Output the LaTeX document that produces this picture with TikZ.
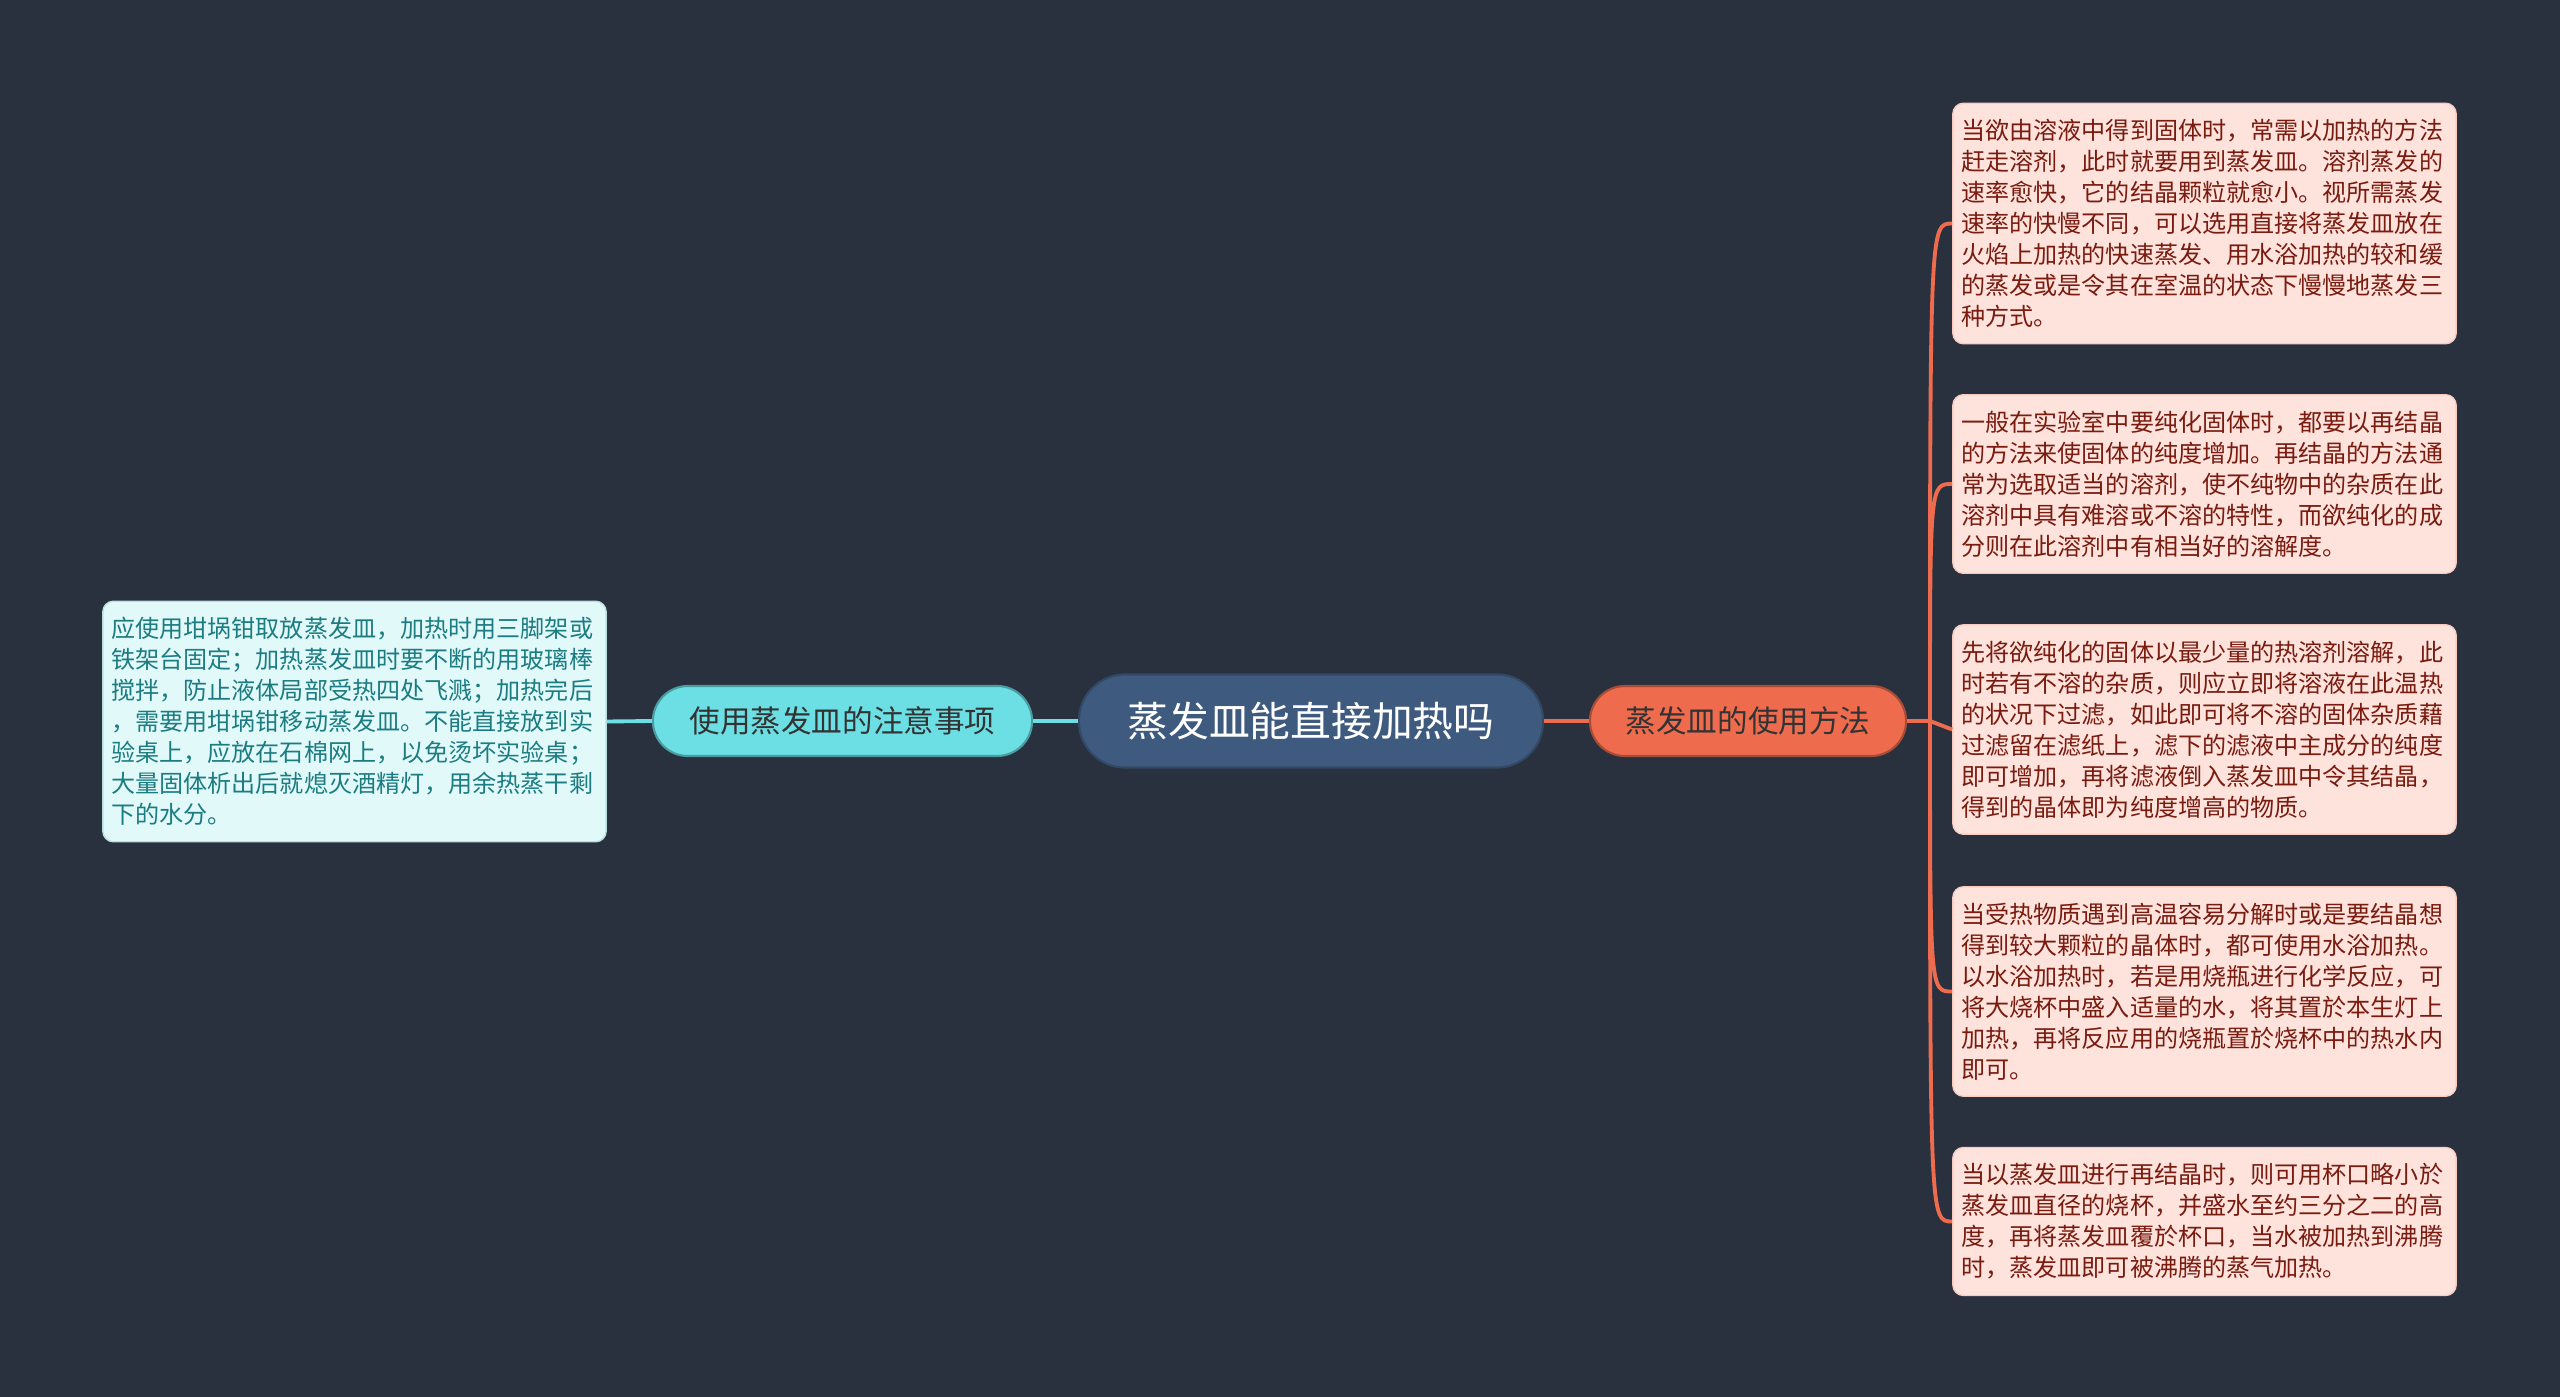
\documentclass[tikz,border=0pt]{standalone}
\usepackage{fontspec}
\newfontfamily\cjkfont{Noto Sans CJK SC}
\usetikzlibrary{positioning}
\definecolor{bgdark}{HTML}{29313F}
\definecolor{rootblue}{HTML}{3E5A7E}
\definecolor{cyanbr}{HTML}{6BDFE4}
\definecolor{cyanleaf}{HTML}{E1F9F9}
\definecolor{cyantext}{HTML}{1B7C82}
\definecolor{orangebr}{HTML}{EE6C4D}
\definecolor{pinkleaf}{HTML}{FDE3DC}
\definecolor{pinktext}{HTML}{7A1B10}

\begin{document}
\begin{tikzpicture}[
  x=0.01cm, y=-0.01cm,
  % Node styles
  rootbox/.style={rectangle, rounded corners=0.46cm, fill=rootblue, draw=rootblue!80!black,
    minimum width=4.64cm, minimum height=0.93cm, text=white, line width=0.6pt,
    font=\cjkfont\fontsize{11.6}{14}\selectfont},
  lbrbox/.style={rectangle, rounded corners=0.35cm, fill=cyanbr, draw=cyanbr!70!black,
    minimum width=3.79cm, minimum height=0.70cm, text=black!80, line width=0.6pt,
    font=\cjkfont\fontsize{8.7}{11}\selectfont},
  rbrbox/.style={rectangle, rounded corners=0.35cm, fill=orangebr, draw=orangebr!70!black,
    minimum width=3.16cm, minimum height=0.70cm, text=black!80, line width=0.6pt,
    font=\cjkfont\fontsize{8.7}{11}\selectfont},
  lleafbox/.style={rectangle, rounded corners=3pt, fill=cyanleaf, draw=cyanleaf!80!cyantext,
    text width=4.86cm, inner xsep=0.085cm, inner ysep=0.16cm, align=left, text=cyantext,
    line width=0.4pt, font=\cjkfont\fontsize{6.85}{8.82}\selectfont},
  rleafbox/.style={rectangle, rounded corners=3pt, fill=pinkleaf, draw=pinkleaf!80!orangebr,
    text width=4.86cm, inner xsep=0.085cm, inner ysep=0.16cm, align=left, text=pinktext,
    line width=0.4pt, font=\cjkfont\fontsize{6.85}{8.82}\selectfont},
  llink/.style={draw=cyanbr, line width=1.1pt},
  rlink/.style={draw=orangebr, line width=1.1pt},
]

% === Background ===
\fill[bgdark] (0,0) rectangle (2560,1397);
\useasboundingbox (0,0) rectangle (2560,1397);

% === Column positions ===
\def\colL{354.5}
\def\colR{2204.5}

% === Root and branches ===
\node[rootbox] (root) at (1311,721) {蒸发皿能直接加热吗};
\node[lbrbox] (lbr) at (842.5,721) {使用蒸发皿的注意事项};
\node[rbrbox] (rbr) at (1748,721) {蒸发皿的使用方法};

% === Left leaf ===
\node[lleafbox] (l1) at (\colL, 721.5)
  {应使用坩埚钳取放蒸发皿，加热时用三脚架或\\铁架台固定；加热蒸发皿时要不断的用玻璃棒\\搅拌，防止液体局部受热四处飞溅；加热完后\\，需要用坩埚钳移动蒸发皿。不能直接放到实\\验桌上，应放在石棉网上，以免烫坏实验桌；\\大量固体析出后就熄灭酒精灯，用余热蒸干剩\\下的水分。};

% === Right leaves ===
\node[rleafbox] (r1) at (\colR, 223.5)
  {当欲由溶液中得到固体时，常需以加热的方法\\赶走溶剂，此时就要用到蒸发皿。溶剂蒸发的\\速率愈快，它的结晶颗粒就愈小。视所需蒸发\\速率的快慢不同，可以选用直接将蒸发皿放在\\火焰上加热的快速蒸发、用水浴加热的较和缓\\的蒸发或是令其在室温的状态下慢慢地蒸发三\\种方式。};
\node[rleafbox] (r2) at (\colR, 484)
  {一般在实验室中要纯化固体时，都要以再结晶\\的方法来使固体的纯度增加。再结晶的方法通\\常为选取适当的溶剂，使不纯物中的杂质在此\\溶剂中具有难溶或不溶的特性，而欲纯化的成\\分则在此溶剂中有相当好的溶解度。};
\node[rleafbox] (r3) at (\colR, 729.5)
  {先将欲纯化的固体以最少量的热溶剂溶解，此\\时若有不溶的杂质，则应立即将溶液在此温热\\的状况下过滤，如此即可将不溶的固体杂质藉\\过滤留在滤纸上，滤下的滤液中主成分的纯度\\即可增加，再将滤液倒入蒸发皿中令其结晶，\\得到的晶体即为纯度增高的物质。};
\node[rleafbox] (r4) at (\colR, 991.5)
  {当受热物质遇到高温容易分解时或是要结晶想\\得到较大颗粒的晶体时，都可使用水浴加热。\\以水浴加热时，若是用烧瓶进行化学反应，可\\将大烧杯中盛入适量的水，将其置於本生灯上\\加热，再将反应用的烧瓶置於烧杯中的热水内\\即可。};
\node[rleafbox] (r5) at (\colR, 1221.5)
  {当以蒸发皿进行再结晶时，则可用杯口略小於\\蒸发皿直径的烧杯，并盛水至约三分之二的高\\度，再将蒸发皿覆於杯口，当水被加热到沸腾\\时，蒸发皿即可被沸腾的蒸气加热。};

% === Links: left side ===
\draw[llink] (root.west) -- (lbr.east);
\draw[llink] (lbr.west) -- (l1.east);

% === Links: right side ===
\draw[rlink] (root.east) -- (rbr.west);
\coordinate (rjoint) at (1930,721);
\draw[rlink] (rbr.east) -- (rjoint);
\draw[rlink] (rjoint) .. controls (rjoint |- r1.west) .. (r1.west);
\draw[rlink] (rjoint) .. controls (rjoint |- r2.west) .. (r2.west);
\draw[rlink] (rjoint) -- (r3.west);
\draw[rlink] (rjoint) .. controls (rjoint |- r4.west) .. (r4.west);
\draw[rlink] (rjoint) .. controls (rjoint |- r5.west) .. (r5.west);

\end{tikzpicture}
\end{document}
